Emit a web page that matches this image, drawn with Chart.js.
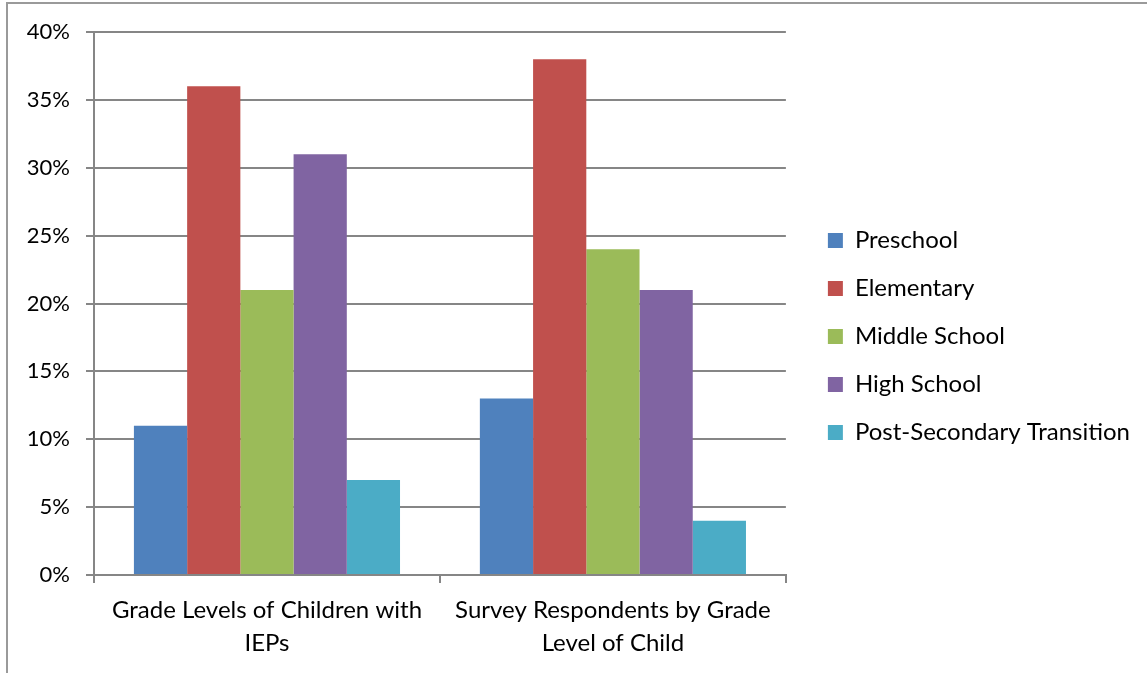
<!DOCTYPE html>
<html>
<head>
<meta charset="utf-8">
<script src="https://cdn.jsdelivr.net/npm/chart.js@4"></script>
<style>
  html, body { margin: 0; padding: 0; background: #fff; overflow: hidden; }
  #wrap { position: relative; width: 1147px; height: 673px; }
  #frame { position: absolute; left: 6px; top: 2px; width: 1200px; height: 700px;
           border: 2px solid #9a9a9a; box-sizing: border-box; pointer-events: none; }
</style>
</head>
<body>
<div id="wrap">
  <canvas id="chart" width="1147" height="673"></canvas>
  <div id="frame"></div>
</div>
<script>
// ---------- DATA ----------
const categories = [
  ["Grade Levels of Children with", "IEPs"],
  ["Survey Respondents by Grade", "Level of Child"]
];
const seriesNames = ["Preschool", "Elementary", "Middle School", "High School", "Post-Secondary Transition"];
const preschool = [11, 13];
const elementary = [36, 38];
const middleSchool = [21, 24];
const highSchool = [31, 21];
const postSecondary = [7, 4];
const seriesColors = ["#4F81BD", "#C0504D", "#9BBB59", "#8064A2", "#4BACC6"];
const yMax = 40;
const yStep = 5;

// ---------- CHART ----------
const seriesValues = [preschool, elementary, middleSchool, highSchool, postSecondary];
const axisGray = "#868686";
const fontSize = 24;

Chart.defaults.font.family = "Lato, 'Open Sans', sans-serif";
Chart.defaults.color = "#000";

const datasets = seriesNames.map((name, i) => ({
  label: name,
  data: seriesValues[i],
  backgroundColor: seriesColors[i],
  borderWidth: 0,
  categoryPercentage: 5 / 6.5,
  barPercentage: 1
}));

new Chart(document.getElementById("chart").getContext("2d"), {
  type: "bar",
  data: { labels: categories, datasets },
  options: {
    responsive: false,
    animation: false,
    layout: { padding: { top: 0, right: 7, bottom: 0, left: 0 } },
    plugins: {
      tooltip: { enabled: false },
      legend: {
        position: "right",
        maxWidth: 420,
        labels: {
          boxWidth: 15,
          boxHeight: 15,
          padding: 24,
          font: { size: fontSize },
          color: "#000"
        }
      }
    },
    scales: {
      x: {
        grid: { offset: true, drawOnChartArea: false, color: axisGray, lineWidth: 2, tickLength: 8 },
        border: { color: axisGray, width: 2 },
        ticks: { font: { size: fontSize, lineHeight: 1.4 }, color: "#000", padding: 10, maxRotation: 0, autoSkip: false },
        afterFit: s => { s.height = 98; }
      },
      y: {
        min: 0,
        max: yMax,
        ticks: { stepSize: yStep, callback: v => v + "%", padding: 16, font: { size: 22 }, color: "#000" },
        grid: { color: axisGray, lineWidth: 2, tickLength: 8 },
        border: { color: axisGray, width: 2 },
        afterFit: s => { s.width = 94; s.paddingTop = 32; }
      },
      gap: {
        type: "linear",
        position: "right",
        display: true,
        grid: { display: false },
        ticks: { display: false },
        border: { display: false },
        afterFit: s => { s.width = 18; }
      }
    }
  }
});
</script>
</body>
</html>
